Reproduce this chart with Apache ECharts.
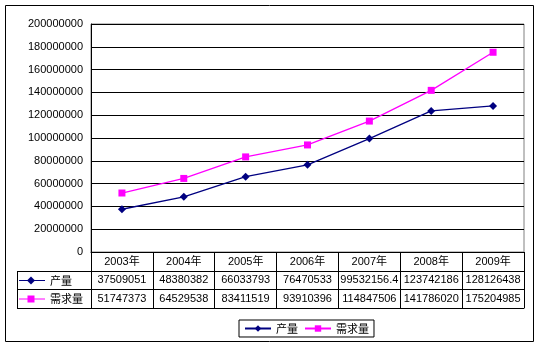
<!DOCTYPE html>
<html>
<head>
<meta charset="utf-8">
<script src="https://cdn.jsdelivr.net/npm/echarts@6/dist/echarts.min.js"></script>
<style>
  html, body { margin: 0; padding: 0; background: #fff; }
  #chart { width: 541px; height: 349px; }
</style>
</head>
<body>
<div id="chart"></div>
<script>
// Years and yearly figures
const years = ['2003年', '2004年', '2005年', '2006年', '2007年', '2008年', '2009年'];
const production = [37509051, 48380382, 66033793, 76470533, 99532156.4, 123742186, 128126438];
const demand = [51747373, 64529538, 83411519, 93910396, 114847506, 141786020, 175204985];
const seriesNames = ['产量', '需求量'];
const yMin = 0, yMax = 200000000, yStep = 20000000;

const NAVY = '#000080';
const MAGENTA = '#FF00FF';
const FONT = '"Liberation Sans", Arial, "Noto Sans CJK SC", sans-serif';
const CJK = '"Noto Sans CJK SC", "Liberation Sans", sans-serif';

const chart = echarts.init(document.getElementById('chart'), null, { renderer: 'canvas' });

// Geometry of plot and table
const G = { left: 91, top: 24, right: 524, bottom: 252 };
const rowH = [19, 18, 19];             // header row, 产量 row, 需求量 row
const row1Top = G.bottom + rowH[0];
const row2Top = row1Top + rowH[1];
const tableBottom = row2Top + rowH[2];
const tableLeft = 17;

function tableAxis(offset, labelFn, margin, showTicks) {
  return {
    type: 'category',
    position: 'bottom',
    offset: offset,
    data: years,
    boundaryGap: true,
    axisLine: { show: true, lineStyle: { color: '#000', width: 1 } },
    axisTick: showTicks
      ? { show: true, interval: 0, length: tableBottom - G.bottom, lineStyle: { color: '#000' } }
      : { show: false },
    axisLabel: labelFn
      ? { show: true, interval: 0, margin: margin, color: '#000', fontSize: 11, fontFamily: FONT, formatter: labelFn }
      : { show: false },
    splitLine: { show: false }
  };
}

// key + name cell in the left column of the table
function rowKey(y, color, symbol, name) {
  const cx = 31;
  const items = [
    { type: 'line', shape: { x1: 19, y1: y, x2: 45, y2: y }, style: { stroke: color, lineWidth: 1 } }
  ];
  if (symbol === 'diamond') {
    items.push({ type: 'polygon', shape: { points: [[cx, y - 4], [cx + 4, y], [cx, y + 4], [cx - 4, y]] }, style: { fill: color } });
  } else {
    items.push({ type: 'rect', shape: { x: cx - 3.5, y: y - 3.5, width: 7, height: 7 }, style: { fill: color } });
  }
  items.push({ type: 'text', x: 50, y: y, style: { text: name, fill: '#000', font: '11px ' + CJK, textVerticalAlign: 'middle' } });
  return items;
}

const graphics = [
  // outer chart frame
  { type: 'rect', shape: { x: 5.5, y: 5.5, width: 528, height: 336 }, style: { fill: null, stroke: '#000', lineWidth: 1 }, z: 100 },
  // left column of the data table
  { type: 'line', shape: { x1: tableLeft + 0.5, y1: row1Top, x2: tableLeft + 0.5, y2: tableBottom + 0.5 }, style: { stroke: '#000', lineWidth: 1 } },
  { type: 'line', shape: { x1: tableLeft, y1: row1Top + 0.5, x2: G.left, y2: row1Top + 0.5 }, style: { stroke: '#000', lineWidth: 1 } },
  { type: 'line', shape: { x1: tableLeft, y1: row2Top + 0.5, x2: G.left, y2: row2Top + 0.5 }, style: { stroke: '#000', lineWidth: 1 } },
  { type: 'line', shape: { x1: tableLeft, y1: tableBottom + 0.5, x2: G.left, y2: tableBottom + 0.5 }, style: { stroke: '#000', lineWidth: 1 } }
]
  .concat(rowKey(row1Top + rowH[1] / 2 + 0.5, NAVY, 'diamond', seriesNames[0]))
  .concat(rowKey(row2Top + rowH[2] / 2 + 0.5, MAGENTA, 'square', seriesNames[1]));

const option = {
  backgroundColor: '#fff',
  animation: false,
  grid: {
    left: G.left, top: G.top, right: 541 - G.right, bottom: 349 - G.bottom,
    show: true, borderColor: '#808080', borderWidth: 1, backgroundColor: '#fff'
  },
  legend: {
    data: seriesNames,
    left: 239, top: 320,
    itemWidth: 26, itemHeight: 8, itemGap: 6,
    padding: [3, 5, 3, 5],
    borderColor: '#000', borderWidth: 1,
    textStyle: { color: '#000', fontSize: 11, fontFamily: CJK }
  },
  xAxis: [
    tableAxis(0, (v) => v, 4, true),
    tableAxis(rowH[0], (v, i) => String(production[i]), 3, false),
    tableAxis(rowH[0] + rowH[1], (v, i) => String(demand[i]), 4, false),
    tableAxis(rowH[0] + rowH[1] + rowH[2], null, 0, false)
  ],
  yAxis: {
    type: 'value',
    min: yMin, max: yMax, interval: yStep,
    axisLine: { show: true, lineStyle: { color: '#000', width: 1 } },
    axisTick: { show: false },
    axisLabel: { color: '#000', fontSize: 11, fontFamily: FONT, margin: 8, formatter: (v) => String(v) },
    splitLine: { show: true, lineStyle: { color: '#000', width: 1 } }
  },
  series: [
    {
      name: seriesNames[0], type: 'line', xAxisIndex: 0, data: production,
      symbol: 'diamond', symbolSize: 8,
      lineStyle: { color: NAVY, width: 1.3 }, itemStyle: { color: NAVY }
    },
    {
      name: seriesNames[1], type: 'line', xAxisIndex: 0, data: demand,
      symbol: 'rect', symbolSize: 7,
      lineStyle: { color: MAGENTA, width: 1.3 }, itemStyle: { color: MAGENTA }
    }
  ],
  graphic: graphics
};

chart.setOption(option);
</script>
</body>
</html>
